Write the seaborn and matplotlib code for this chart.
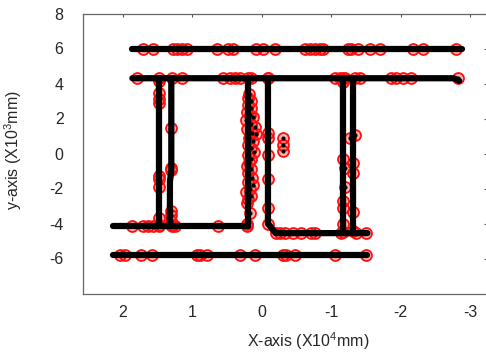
import matplotlib
matplotlib.use("Agg")
import matplotlib.pyplot as plt
import seaborn as sns
import pandas as pd

# black measurement track: one list of vertices per wall (x in 10^4 mm, y in 10^3 mm)
track_top_x = [1.86, -2.88]
track_top_y = [6.0, 6.0]
track_upper_x = [1.86, -2.76, -2.84]
track_upper_y = [4.3, 4.3, 4.15]
track_left_a_x = [1.47, 1.47]
track_left_a_y = [4.3, -4.15]
track_left_b_x = [1.30, 1.30, 1.32, 1.32]
track_left_b_y = [4.3, -1.0, -1.6, -4.15]
track_lower_left_x = [2.14, 0.20]
track_lower_left_y = [-4.15, -4.15]
track_bottom_x = [2.14, -1.52]
track_bottom_y = [-5.8, -5.8]
track_mid_a_x = [0.20, 0.20]
track_mid_a_y = [4.3, -4.15]
track_mid_b_x = [-0.09, -0.09, -0.2, -1.52]
track_mid_b_y = [4.3, -4.0, -4.55, -4.55]
track_right_a_x = [-1.17, -1.17]
track_right_a_y = [4.3, -4.55]
track_right_b_x = [-1.31, -1.31]
track_right_b_y = [4.3, -4.55]

# red detections along horizontal walls
red_top_y = 6.0
red_top_x = [1.71, 1.57, 1.28, 1.22, 1.15, 1.08, 0.65, 0.49, 0.42, 0.08, -0.02, -0.19,
             -0.62, -0.69, -0.77, -0.84, -0.88, -1.24, -1.29, -1.39, -1.56, -1.70,
             -2.18, -2.32, -2.80]
red_upper_y = 4.3
red_upper_x = [1.80, 1.47, 1.29, 1.15, 0.56, 0.46, 0.39, 0.31, 0.20, 0.16, -0.09,
               -1.05, -1.12, -1.20, -1.34, -1.41, -1.86, -1.93, -2.03, -2.14, -2.83]
red_lower_left_y = -4.15
red_lower_left_x = [1.87, 1.71, 1.64, 1.57, 1.47, 1.29, 1.25, 0.63, 0.21]
red_bottom_y = -5.8
red_bottom_x = [2.04, 1.97, 1.73, 1.58, 0.93, 0.89, 0.78, 0.31, 0.10, -0.31, -0.35,
                -0.48, -1.05, -1.50]
red_mid_right_y = -4.55
red_mid_right_x = [-0.20, -0.26, -0.33, -0.45, -0.56, -0.71, -0.77, -1.14, -1.36, -1.50]

# red detections along vertical walls
red_left_a_x = 1.47
red_left_a_y = [4.17, 3.43, 3.14, 2.86, -1.26, -1.43, -1.94, -3.66, -4.11]
red_left_b_x = 1.30
red_left_b_y = [1.43, -0.8, -0.97, -3.26, -3.54, -3.83, -4.11]
red_mid_b_x = -0.09
red_mid_b_y = [4.29, 1.2, 0.91, -0.11, -1.43, -3.09, -4.0]
red_side_x = -0.30
red_side_y = [0.86, 0.46, 0.17]
red_right_x = [-1.27, -1.34, -1.17, -1.20, -1.31, -1.31, -1.20, -1.17, -1.17, -1.31,
               -1.17, -1.31, -1.17, -1.17, -1.17]
red_right_y = [0.86, 1.03, -0.29, -0.8, -1.14, -0.57, -1.94, -2.69, -3.09, -3.37,
               -4.0, -4.4, -4.5, 4.3, 4.1]
red_column_x = [0.18, 0.20, 0.16, 0.19, 0.15, 0.21, 0.17, 0.12, 0.22, 0.16, 0.10, 0.21,
                0.14, 0.08, 0.18, 0.13, 0.20, 0.16, 0.11, 0.19, 0.15, 0.18, 0.21, 0.16,
                0.19, 0.14, 0.20, 0.13, 0.17, 0.22, 0.16, 0.19, 0.21, 0.17, 0.21]
red_column_y = [3.4, 3.2, 3.0, 2.8, 2.6, 2.4, 2.2, 2.1, 1.9, 1.7, 1.5, 1.4, 1.2, 1.1,
                0.9, 0.7, 0.5, 0.3, 0.1, -0.1, -0.3, -0.5, -0.7, -0.9, -1.1, -1.4,
                -1.6, -1.8, -2.0, -2.2, -2.4, -2.6, -2.8, -3.4, -4.0]

x_ticks = [2, 1, 0, -1, -2, -3]
y_ticks = [-6, -4, -2, 0, 2, 4, 6, 8]

# build tables
walls = {
    "top": (track_top_x, track_top_y),
    "upper": (track_upper_x, track_upper_y),
    "left_a": (track_left_a_x, track_left_a_y),
    "left_b": (track_left_b_x, track_left_b_y),
    "lower_left": (track_lower_left_x, track_lower_left_y),
    "bottom": (track_bottom_x, track_bottom_y),
    "mid_a": (track_mid_a_x, track_mid_a_y),
    "mid_b": (track_mid_b_x, track_mid_b_y),
    "right_a": (track_right_a_x, track_right_a_y),
    "right_b": (track_right_b_x, track_right_b_y),
}
rows = []
for name, (xs, ys) in walls.items():
    for i, (x, y) in enumerate(zip(xs, ys)):
        rows.append({"wall": name, "order": i, "x": x, "y": y})
track = pd.DataFrame(rows)

red = []
for xs, y in [(red_top_x, red_top_y), (red_upper_x, red_upper_y),
              (red_lower_left_x, red_lower_left_y), (red_bottom_x, red_bottom_y),
              (red_mid_right_x, red_mid_right_y)]:
    red += [(x, y) for x in xs]
for x, ys in [(red_left_a_x, red_left_a_y), (red_left_b_x, red_left_b_y),
              (red_mid_b_x, red_mid_b_y), (red_side_x, red_side_y)]:
    red += [(x, y) for y in ys]
red += list(zip(red_right_x, red_right_y))
red += list(zip(red_column_x, red_column_y))
red = pd.DataFrame(red, columns=["x", "y"])

sns.set_theme(style="white")
plt.rcParams["font.family"] = ["Liberation Sans", "DejaVu Sans"]
plt.rcParams["mathtext.default"] = "regular"
plt.rcParams["axes.unicode_minus"] = False

text_color = "#262626"
fig = plt.figure(figsize=(4.86, 3.52), dpi=100)
ax = fig.add_axes([83 / 486, (352 - 293.5) / 352, 404 / 486, 280 / 352])

sns.lineplot(data=track, x="x", y="y", units="wall", estimator=None, sort=False,
             color="black", linewidth=4.5, solid_capstyle="round", ax=ax, legend=False)
sns.scatterplot(data=red, x="x", y="y", marker="o", s=62, facecolor=(1, 0, 0, 0.3),
                edgecolor="#ff1010", linewidth=1.3, ax=ax)
sns.scatterplot(data=red, x="x", y="y", color="black", s=9, linewidth=0, ax=ax)

ax.set_xlim(2.57, -3.24)
ax.set_ylim(-8, 8)
ax.set_xticks(x_ticks)
ax.set_yticks(y_ticks)
ax.tick_params(direction="in", length=2.5, width=0.8, color="#555555",
               top=True, right=True, labelsize=11.5, labelcolor=text_color)
ax.tick_params(axis="x", pad=8)
ax.tick_params(axis="y", pad=14)
for s in ax.spines.values():
    s.set_color("#666666")
    s.set_linewidth(0.9)

ax.set_xlabel("X-axis (X10$^4$mm)", fontsize=11.5, color=text_color)
ax.set_ylabel("y-axis (X10$^3$mm)", fontsize=11.5, color=text_color)
ax.xaxis.set_label_coords((308 - 83) / 404, -(330 - 293.5) / 280)
ax.yaxis.set_label_coords(-(83 - 24) / 404, (293.5 - 150) / 280)

fig.savefig("out.png", dpi=100)
